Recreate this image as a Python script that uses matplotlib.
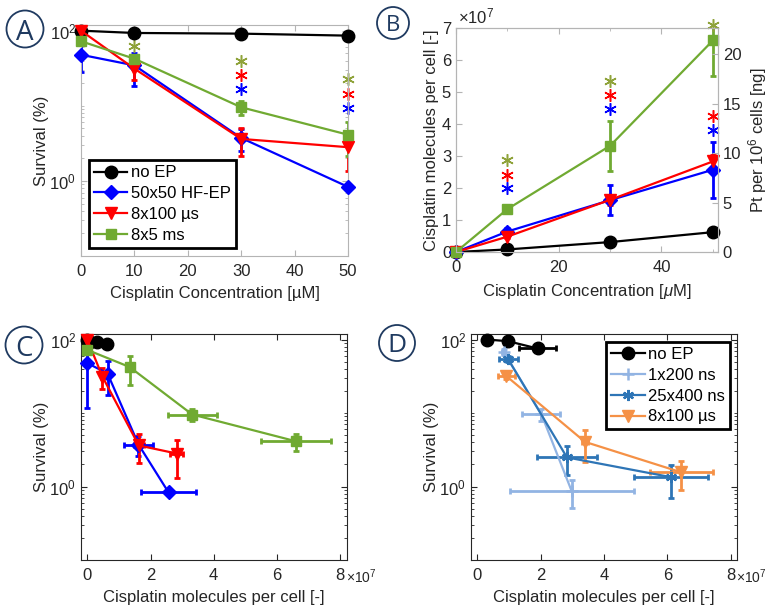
import numpy as np
import matplotlib
matplotlib.use("Agg")
import matplotlib.pyplot as plt
from matplotlib.ticker import FuncFormatter, LogLocator, NullFormatter, FixedLocator
from matplotlib.patches import Ellipse

FS = 12
plt.rcParams['font.family'] = ['Liberation Sans', 'DejaVu Sans']
plt.rcParams['font.size'] = FS
plt.rcParams['mathtext.fontset'] = 'custom'
plt.rcParams['mathtext.rm'] = 'Liberation Sans'
plt.rcParams['mathtext.it'] = 'Liberation Sans:italic'

# ---------------- data ----------------
conc = [0, 10, 30, 50]

# Panel A: survival (%)
A_noEP = [100, 93.2, 91.3, 85.9]
A_hf = [47.8, 34.5, 3.73, 0.833]
A_100us = [100, 31.2, 3.62, 2.81]
A_5ms = [72.3, 42.3, 9.55, 4.12]
A_noEP_err = [1, 1, 1, 1]
A_hf_err = [20, 16, 1.2, 0.05]
A_100us_err = [2, 9, 1.5, 1.45]
A_5ms_err = [3, 4, 1.9, 2.0]
A_star_green_x = [10, 30, 50]
A_star_green_y = [62.1, 39.4, 22.4]
A_star_red_x = [30, 50]
A_star_red_y = [25.5, 14.3]
A_star_blue_x = [30, 50]
A_star_blue_y = [16.5, 9.27]

# Panel B: cisplatin molecules per cell
B_noEP = [0, 0.08e7, 0.31e7, 0.62e7]
B_hf = [0, 0.64e7, 1.62e7, 2.57e7]
B_100us = [0, 0.48e7, 1.63e7, 2.83e7]
B_5ms = [0, 1.34e7, 3.32e7, 6.61e7]
B_noEP_err = [0, 0.02e7, 0.03e7, 0.05e7]
B_hf_err = [0, 0.1e7, 0.47e7, 0.88e7]
B_100us_err = [0, 0.05e7, 0.15e7, 0.2e7]
B_5ms_err = [0, 0.1e7, 0.78e7, 1.1e7]
B_star_x = [10, 30, 50]
B_star_green_y = [2.86e7, 5.35e7, 7.1e7]
B_star_red_y = [2.42e7, 4.9e7, 4.24e7]
B_star_blue_y = [1.99e7, 4.47e7, 3.8e7]
molecules_per_ng = 3.087e6  # per cell, for 10^6 cells

# Panel C: survival error bars
C_noEP_yerr = [1, 1, 1, 1]
C_hf_yerr = [36, 17, 1.1, 0.05]
C_100us_yerr = [2, 10, 1.5, 1.5]
C_5ms_yerr = [3, 18, 1.8, 1.1]

# Panel D
D_noEP_x = [0.31e7, 0.97e7, 1.90e7]
D_noEP_y = [100, 95, 75.6]
D_noEP_xerr = [0.05e7, 0.05e7, 0.57e7]
D_noEP_yerr = [1, 1, 2]
D_200ns_x = [0.83e7, 2.02e7, 2.98e7]
D_200ns_y = [68, 9.7, 0.865]
D_200ns_xerr = [0.05e7, 0.6e7, 1.96e7]
D_200ns_yerr = [7, 1.8, 0.35]
D_400ns_x = [0.97e7, 2.83e7, 6.12e7]
D_400ns_y = [54.3, 2.49, 1.34]
D_400ns_xerr = [0.3e7, 0.96e7, 1.16e7]
D_400ns_yerr = [5, 1.05, 0.64]
D_100us_x = [0.91e7, 3.40e7, 6.44e7]
D_100us_y = [32, 4.05, 1.56]
D_100us_xerr = [0.27e7, 0.1e7, 1.0e7]
D_100us_yerr = [3, 1.9, 0.66]

labels_A = ['no EP', '50x50 HF-EP', '8x100 µs', '8x5 ms']
labels_D = ['no EP', '1x200 ns', '25x400 ns', '8x100 µs']

# ---------------- styles ----------------
BLACK = 'black'
BLUE = '#0000FF'
RED = '#FF0000'
GREEN = '#70AA32'
STAR_GREEN = '#8FA33A'
LBLUE = '#92B4E3'
DBLUE = '#2E75B6'
ORANGE = '#F59146'
NAVY = '#1F3A60'
TXT = '#262626'
GRAYFRAME = '#B4B4B4'
ASTER = (6, 2, 0)

W, H = 772, 613
fig = plt.figure(figsize=(W / 100, H / 100), dpi=100)


def rect(l, t, r, b):
    return [l / W, 1 - b / H, (r - l) / W, (b - t) / H]


def series(ax, x, y, xerr, yerr, color, marker, ms, label=None, lw=1.6, mew=1.0):
    ax.errorbar(x, y, xerr=xerr, yerr=yerr, fmt='none', ecolor=color,
                elinewidth=lw + 0.4, capsize=2.5, capthick=lw + 0.4)
    ln, = ax.plot(x, y, color=color, lw=lw, marker=marker, ms=ms, mfc=color,
                  mec=color, mew=mew, label=label, clip_on=False, zorder=3)
    return ln


def style(ax, frame):
    for s in ax.spines.values():
        s.set_color(frame)
        s.set_linewidth(0.8)
    ax.tick_params(which='both', direction='in', top=True, right=True,
                   color=frame, labelcolor=TXT, labelsize=FS)
    ax.tick_params(which='major', length=4.5)
    ax.tick_params(which='minor', length=2.5)
    ax.tick_params(axis='x', pad=6)


def logy(ax):
    ax.set_yscale('log')
    ax.set_ylim(0.1, 119)
    ax.yaxis.set_major_locator(FixedLocator([1, 100]))
    ax.yaxis.set_major_formatter(FuncFormatter(
        lambda v, p: r'$10^{%d}$' % int(round(np.log10(v)))))
    ax.yaxis.set_minor_locator(LogLocator(base=10, subs=np.arange(1, 10)))
    ax.yaxis.set_minor_formatter(NullFormatter())


# ---------------- Panel A ----------------
axA = fig.add_axes(rect(81, 25, 348, 256))
style(axA, GRAYFRAME)
lA = []
lA.append(series(axA, conc, A_noEP, None, A_noEP_err, BLACK, 'o', 9, labels_A[0]))
lA.append(series(axA, conc, A_hf, None, A_hf_err, BLUE, 'D', 7, labels_A[1]))
lA.append(series(axA, conc, A_100us, None, A_100us_err, RED, 'v', 9, labels_A[2]))
lA.append(series(axA, conc, A_5ms, None, A_5ms_err, GREEN, 's', 7.5, labels_A[3]))
axA.plot(A_star_green_x, A_star_green_y, ls='none', marker=ASTER, ms=9, mew=1.1,
         color=STAR_GREEN, clip_on=False)
axA.plot(A_star_red_x, A_star_red_y, ls='none', marker=ASTER, ms=9, mew=1.1,
         color=RED, clip_on=False)
axA.plot(A_star_blue_x, A_star_blue_y, ls='none', marker=ASTER, ms=9, mew=1.1,
         color=BLUE, clip_on=False)
axA.set_xlim(0, 50)
axA.set_xticks([0, 10, 20, 30, 40, 50])
logy(axA)
axA.set_xlabel('Cisplatin Concentration [µM]', color=TXT, fontsize=FS, labelpad=5)
axA.set_ylabel('Survival (%)', color=TXT, fontsize=FS, labelpad=0)
legA = axA.legend(handles=lA, loc='lower left', bbox_to_anchor=(0.03, 0.035),
                  fancybox=False, framealpha=1, edgecolor='black', fontsize=FS,
                  borderpad=0.3, labelspacing=0.35, handlelength=2.0,
                  handletextpad=0.2, borderaxespad=0)
legA.get_frame().set_linewidth(2)

# ---------------- Panel B ----------------
axB = fig.add_axes(rect(456, 28, 718, 252))
style(axB, GRAYFRAME)
axB.tick_params(right=False)
series(axB, conc, B_noEP, None, B_noEP_err, BLACK, 'o', 9)
series(axB, conc, B_hf, None, B_hf_err, BLUE, 'D', 7)
series(axB, conc, B_100us, None, B_100us_err, RED, 'v', 9)
series(axB, conc, B_5ms, None, B_5ms_err, GREEN, 's', 7.5)
axB.plot(B_star_x, B_star_green_y, ls='none', marker=ASTER, ms=9, mew=1.1,
         color=STAR_GREEN, clip_on=False)
axB.plot(B_star_x, B_star_red_y, ls='none', marker=ASTER, ms=9, mew=1.1,
         color=RED, clip_on=False)
axB.plot(B_star_x, B_star_blue_y, ls='none', marker=ASTER, ms=9, mew=1.1,
         color=BLUE, clip_on=False)
axB.set_xlim(0, 51)
axB.set_xticks([0, 20, 40])
axB.xaxis.set_minor_locator(FixedLocator([10, 30, 50]))
axB.set_ylim(0, 7e7)
axB.set_yticks(np.arange(0, 8) * 1e7)
axB.yaxis.set_major_formatter(FuncFormatter(lambda v, p: '%d' % round(v / 1e7)))
axB.set_xlabel(r'Cisplatin Concentration [$\mu$M]', color=TXT, fontsize=FS, labelpad=5)
axB.set_ylabel('Cisplatin molecules per cell [-]', color=TXT, fontsize=FS, labelpad=2)
fig.text(458 / W, 1 - 23 / H, r'$\times10^{7}$', color=TXT, fontsize=FS,
         ha='left', va='baseline')
axB2 = axB.twinx()
axB2.set_ylim(0, 7e7 / molecules_per_ng)
axB2.set_yticks([0, 5, 10, 15, 20])
for s in axB2.spines.values():
    s.set_color(GRAYFRAME)
    s.set_linewidth(0.8)
axB2.tick_params(direction='in', color=GRAYFRAME, labelcolor=TXT, labelsize=FS, length=4.5)
axB2.set_ylabel(r'Pt per 10$^6$ cells [ng]', color=TXT, fontsize=FS, labelpad=3)

# ---------------- Panel C ----------------
fmt7 = FuncFormatter(lambda v, p: '%d' % round(v / 1e7))
axC = fig.add_axes(rect(81, 334, 347, 560))
style(axC, TXT)
series(axC, B_noEP, A_noEP, B_noEP_err, C_noEP_yerr, BLACK, 'o', 9)
series(axC, B_hf, A_hf, B_hf_err, C_hf_yerr, BLUE, 'D', 7)
series(axC, B_100us, A_100us, B_100us_err, C_100us_yerr, RED, 'v', 9)
series(axC, B_5ms, A_5ms, B_5ms_err, C_5ms_yerr, GREEN, 's', 7.5)
axC.set_xlim(-0.2e7, 8.22e7)
axC.set_xticks(np.arange(0, 9, 2) * 1e7)
axC.xaxis.set_major_formatter(fmt7)
logy(axC)
axC.set_xlabel('Cisplatin molecules per cell [-]', color=TXT, fontsize=FS, labelpad=5)
axC.set_ylabel('Survival (%)', color=TXT, fontsize=FS, labelpad=0)
fig.text(346 / W, 1 - 577 / H, r'$\times10^{7}$', color=TXT, fontsize=10,
         ha='left', va='center')

# ---------------- Panel D ----------------
axD = fig.add_axes(rect(471, 334, 737, 560))
style(axD, TXT)
lD = []
lD.append(series(axD, D_noEP_x, D_noEP_y, D_noEP_xerr, D_noEP_yerr, BLACK, 'o', 9, labels_D[0]))
lD.append(series(axD, D_200ns_x, D_200ns_y, D_200ns_xerr, D_200ns_yerr, LBLUE, '+', 9, labels_D[1], mew=1.8))
lD.append(series(axD, D_400ns_x, D_400ns_y, D_400ns_xerr, D_400ns_yerr, DBLUE, ASTER, 8, labels_D[2], mew=1.6))
lD.append(series(axD, D_100us_x, D_100us_y, D_100us_xerr, D_100us_yerr, ORANGE, 'v', 9, labels_D[3]))
axD.set_xlim(-0.2e7, 8.2e7)
axD.set_xticks(np.arange(0, 9, 2) * 1e7)
axD.xaxis.set_major_formatter(fmt7)
logy(axD)
axD.set_xlabel('Cisplatin molecules per cell [-]', color=TXT, fontsize=FS, labelpad=5)
axD.set_ylabel('Survival (%)', color=TXT, fontsize=FS, labelpad=0)
fig.text(736 / W, 1 - 577 / H, r'$\times10^{7}$', color=TXT, fontsize=10,
         ha='left', va='center')
legD = axD.legend(handles=lD, loc='upper right', bbox_to_anchor=(0.973, 0.965),
                  fancybox=False, framealpha=1, edgecolor='black', fontsize=FS,
                  borderpad=0.3, labelspacing=0.35, handlelength=2.0,
                  handletextpad=0.2, borderaxespad=0)
legD.get_frame().set_linewidth(2)

# ---------------- Panel letters ----------------
for letter, cx, cy, r, fs in [('A', 25, 29, 18.5, 20), ('B', 393, 23, 16, 16),
                              ('C', 24, 345, 18.5, 20), ('D', 397, 343, 18, 19)]:
    e = Ellipse((cx / W, 1 - cy / H), 2 * r / W, 2 * r / H, transform=fig.transFigure,
                fill=False, ec=NAVY, lw=1.3)
    fig.patches.append(e)
    fig.text(cx / W, 1 - cy / H, letter, color=NAVY, fontsize=fs, ha='center',
             va='center_baseline', family=['Open Sans', 'DejaVu Sans'])

fig.savefig('out.png', dpi=100)
